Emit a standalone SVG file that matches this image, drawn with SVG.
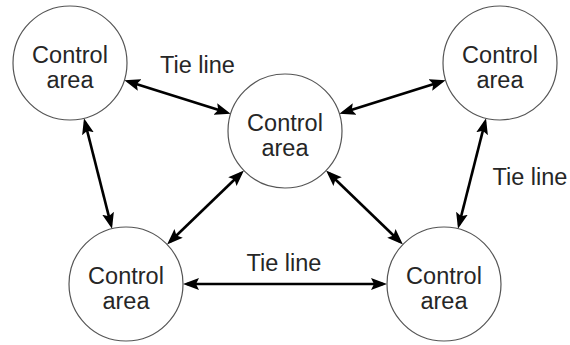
<svg xmlns="http://www.w3.org/2000/svg" width="570" height="345" viewBox="0 0 570 345">
  <style>
    .area circle { fill: #fff; stroke: #555; stroke-width: 1.2; }
    text { font-family: "Liberation Sans", Arial, sans-serif; font-size: 23.5px; fill: #262626; text-anchor: middle; }
    .tie { stroke: #000; stroke-width: 2.6; fill: none; marker-start: url(#head); marker-end: url(#head); }
  </style>
  <defs>
    <marker id="head" viewBox="0 -6 16 12" refX="12" refY="0" markerWidth="16" markerHeight="12" markerUnits="userSpaceOnUse" orient="auto-start-reverse">
      <path d="M0,-6 L16,0 L0,6 L3,0 z" fill="#000"/>
    </marker>
  </defs>

  <rect width="570" height="345" fill="#fff"/>

  <!-- tie lines between control areas -->
  <g id="connectors">
    <line class="tie" x1="128.16" y1="81.40" x2="226.84" y2="112.60"/>
    <line class="tie" x1="343.16" y1="112.60" x2="441.84" y2="81.40"/>
    <line class="tie" x1="84.98" y1="122.13" x2="111.02" y2="224.87"/>
    <line class="tie" x1="485.02" y1="122.13" x2="458.98" y2="224.87"/>
    <line class="tie" x1="241.04" y1="173.30" x2="169.96" y2="241.70"/>
    <line class="tie" x1="328.96" y1="173.30" x2="400.04" y2="241.70"/>
    <line class="tie" x1="187" y1="284" x2="383" y2="284"/>
    <text x="197.5" y="73">Tie line</text>
    <text x="530" y="185">Tie line</text>
    <text x="284" y="271">Tie line</text>
  </g>

  <g id="area-top-left" class="area">
    <circle cx="70" cy="63" r="57"/>
    <text x="70" y="63">Control</text>
    <text x="70" y="88">area</text>
  </g>
  <g id="area-center" class="area">
    <circle cx="285" cy="131" r="57"/>
    <text x="285" y="131">Control</text>
    <text x="285" y="156">area</text>
  </g>
  <g id="area-top-right" class="area">
    <circle cx="500" cy="63" r="57"/>
    <text x="500" y="63">Control</text>
    <text x="500" y="88">area</text>
  </g>
  <g id="area-bottom-left" class="area">
    <circle cx="126" cy="284" r="57"/>
    <text x="126" y="284">Control</text>
    <text x="126" y="309">area</text>
  </g>
  <g id="area-bottom-right" class="area">
    <circle cx="444" cy="284" r="57"/>
    <text x="444" y="284">Control</text>
    <text x="444" y="309">area</text>
  </g>
</svg>
